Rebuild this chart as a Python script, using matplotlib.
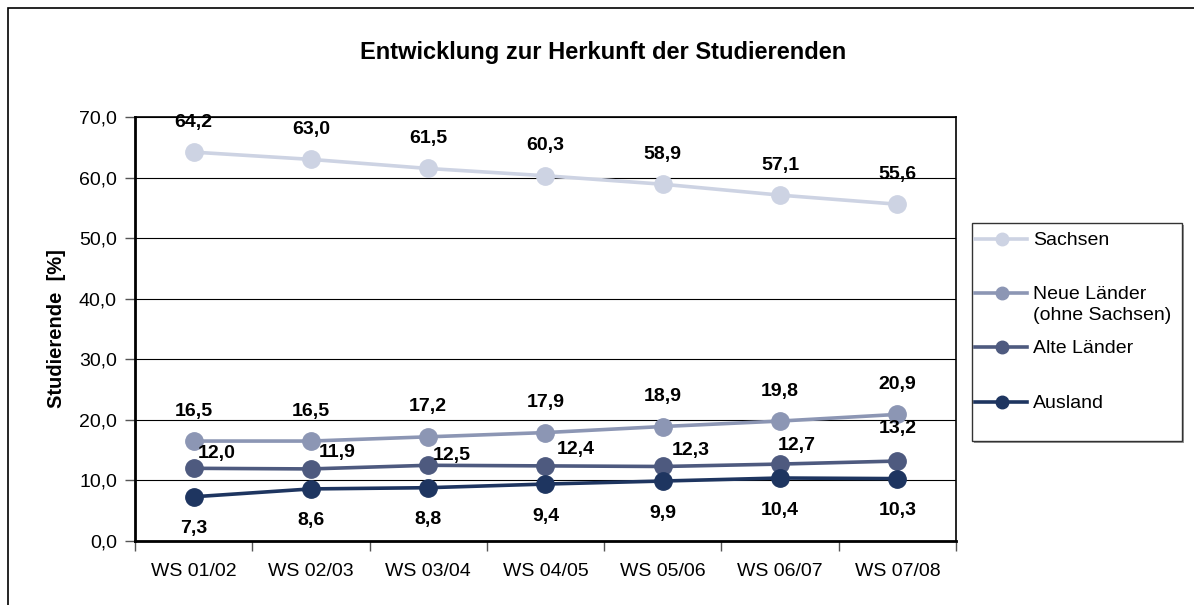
import matplotlib
matplotlib.use("Agg")
import matplotlib.pyplot as plt
import numpy as np
from matplotlib.lines import Line2D
from matplotlib.patches import Rectangle

plt.rcParams['font.family'] = ['Liberation Sans', 'DejaVu Sans']

semesters = ['WS 01/02', 'WS 02/03', 'WS 03/04', 'WS 04/05',
             'WS 05/06', 'WS 06/07', 'WS 07/08']
series_names = ['Sachsen', 'Neue Länder\n(ohne Sachsen)', 'Alte Länder', 'Ausland']
sachsen = [64.2, 63.0, 61.5, 60.3, 58.9, 57.1, 55.6]
neue_laender = [16.5, 16.5, 17.2, 17.9, 18.9, 19.8, 20.9]
alte_laender = [12.0, 11.9, 12.5, 12.4, 12.3, 12.7, 13.2]
ausland = [7.3, 8.6, 8.8, 9.4, 9.9, 10.4, 10.3]

colors = ['#CDD3E3', '#8C96B4', '#4E5A7F', '#1E3560']

# label offsets in pixels (Excel-style placement)
label_offsets = [
    [(0, 30)] * 7,
    [(0, 30)] * 7,
    [(23, 15), (26, 16), (24, 10), (30, 16), (28, 16), (17, 19), (0, 33)],
    [(0, -32)] * 7,
]


def fmt(v):
    return f"{v:.1f}".replace('.', ',')


W, H = 1194, 605
fig = plt.figure(figsize=(W / 100, H / 100), dpi=100)
ax = fig.add_axes([135 / W, 1 - 541 / H, (956 - 135) / W, (541 - 117) / H])

x = np.arange(len(semesters))
all_series = [sachsen, neue_laender, alte_laender, ausland]
for values, color, offsets in zip(all_series, colors, label_offsets):
    ax.plot(x, values, color=color, lw=2.6, marker='o', markersize=12.5,
            zorder=3, clip_on=False)
    for xi, v, (dx, dy) in zip(x, values, offsets):
        ax.annotate(fmt(v), (xi, v), xytext=(dx, dy), textcoords='offset pixels',
                    ha='center', va='center', fontsize=14, fontweight='bold',
                    color='black', zorder=4)

ax.set_xlim(-0.5, len(semesters) - 0.5)
ax.set_ylim(0, 70)
ax.set_yticks(np.arange(0, 71, 10))
ax.set_yticklabels([fmt(v) for v in np.arange(0, 71, 10)], fontsize=14)
ax.yaxis.grid(True, color='black', lw=0.8)
ax.set_axisbelow(True)

# ticks between categories, labels centred
ax.set_xticks(np.arange(-0.5, len(semesters), 1))
ax.set_xticklabels([])
ax.set_xticks(x, minor=True)
ax.set_xticklabels(semesters, minor=True, fontsize=14)
ax.tick_params(axis='x', which='major', length=7, width=1, color='#555555')
ax.tick_params(axis='x', which='minor', length=0, pad=16)
ax.tick_params(axis='y', length=7, width=1, color='#555555', pad=6)

for side in ['left', 'bottom']:
    ax.spines[side].set_linewidth(2)
for side in ['top', 'right']:
    ax.spines[side].set_linewidth(1.2)

fig.text(603 / W, 1 - 52 / H, 'Entwicklung zur Herkunft der Studierenden',
         ha='center', va='center', fontsize=17, fontweight='bold')
fig.text(56 / W, 1 - 329 / H, 'Studierende  [%]', rotation=90,
         ha='center', va='center', fontsize=14.5, fontweight='bold')

# legend box
fig.add_artist(Rectangle((974 / W, 1 - 443 / H), 210 / W, 218 / H,
                         transform=fig.transFigure, facecolor='#999999',
                         edgecolor='none', zorder=1))
fig.add_artist(Rectangle((972 / W, 1 - 441 / H), 210 / W, 218 / H,
                         transform=fig.transFigure, facecolor='white',
                         edgecolor='#333333', lw=1, zorder=2))
legend_y = [239, 293, 347, 402]
for name, color, ly in zip(series_names, colors, legend_y):
    fy = 1 - ly / H
    fig.add_artist(Line2D([975 / W, 1027 / W], [fy, fy], transform=fig.transFigure,
                          color=color, lw=2.6, zorder=3))
    fig.add_artist(Line2D([1002 / W], [fy], transform=fig.transFigure, color=color,
                          marker='o', markersize=9, zorder=3))
    fig.text(1033 / W, fy + 7 / H, name, ha='left', va='top', fontsize=14,
             linespacing=1.28, zorder=3)

# outer chart frame
fig.add_artist(Rectangle((8 / W, -0.1), 1.2, 1.1 - 8 / H, transform=fig.transFigure,
                         facecolor='none', edgecolor='black', lw=1.2, zorder=0))

fig.savefig('out.png', dpi=100)
